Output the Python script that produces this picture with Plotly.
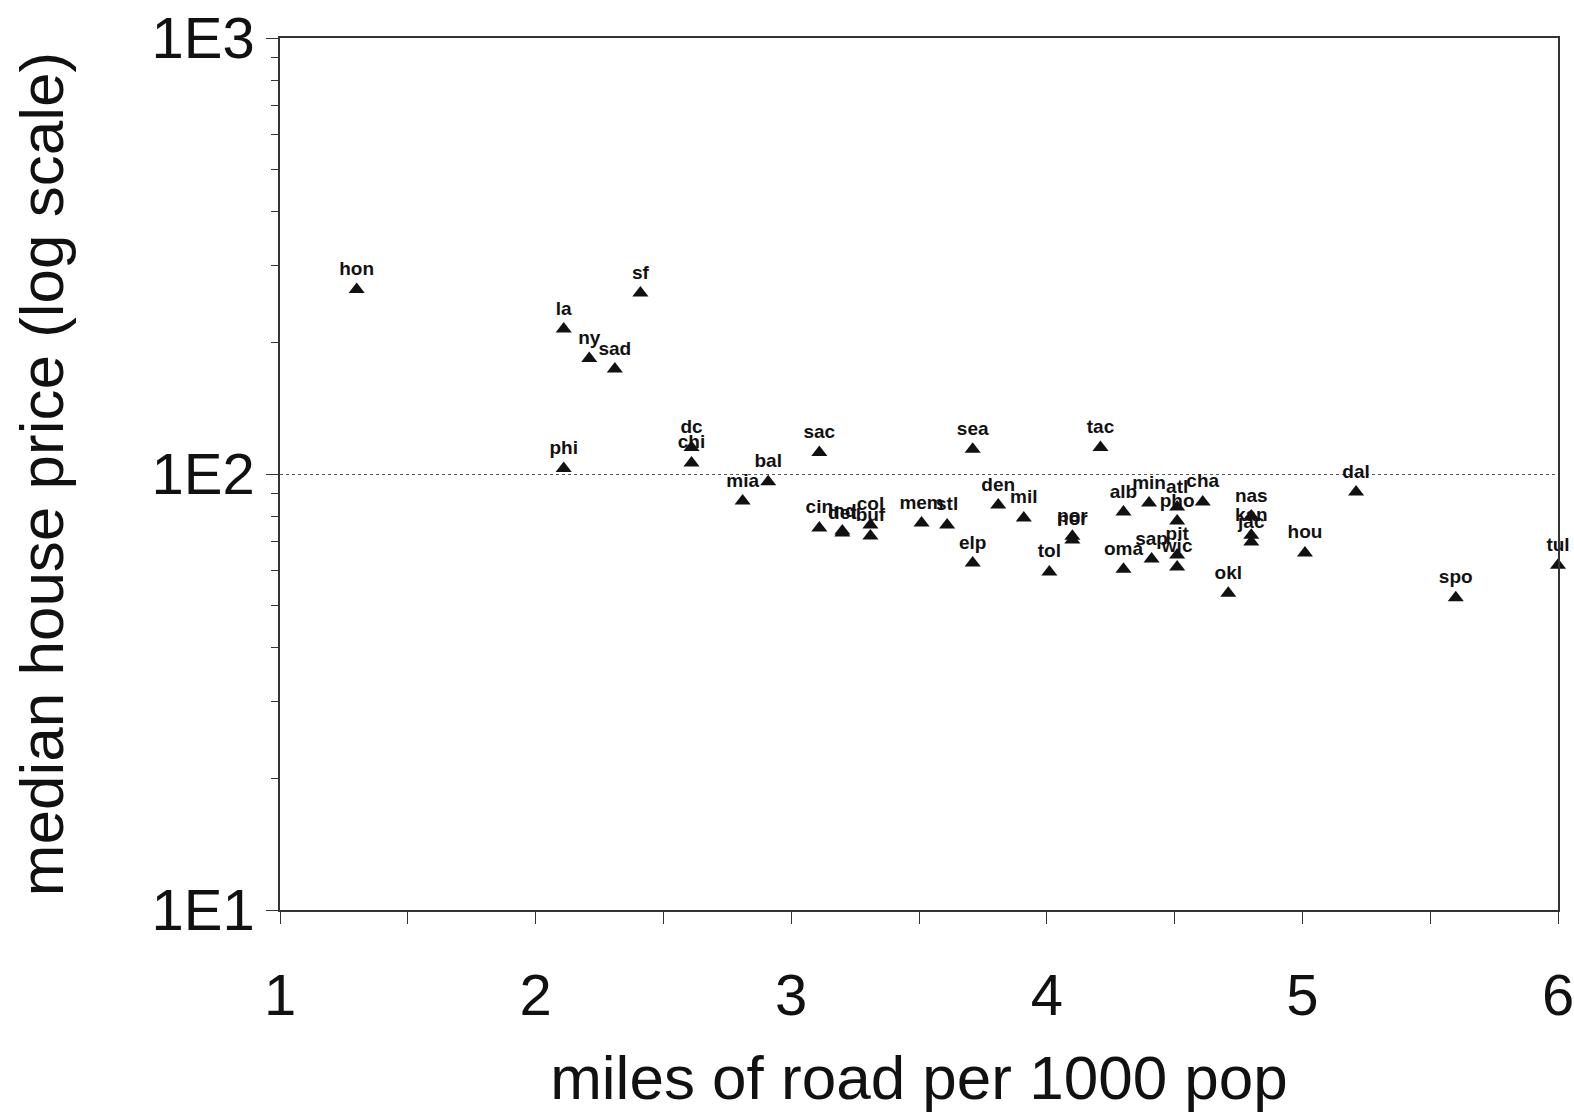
import plotly.graph_objects as go

cities = ["hon", "sf", "la", "ny", "sad", "phi", "dc", "chi", "sac", "sea", "tac",
          "bal", "mia", "den", "mil", "mem", "stl", "elp", "tol", "cin", "ind", "det",
          "col", "buf", "por", "nor", "alb", "min", "atl", "pho", "cha", "sap", "pit",
          "wic", "oma", "okl", "nas", "kan", "jac", "hou", "dal", "spo", "tul"]
road_miles = [1.30, 2.41, 2.11, 2.21, 2.31, 2.11, 2.61, 2.61, 3.11, 3.71, 4.21,
              2.91, 2.81, 3.81, 3.91, 3.51, 3.61, 3.71, 4.01, 3.11, 3.20, 3.20,
              3.31, 3.31, 4.10, 4.10, 4.30, 4.40, 4.51, 4.51, 4.61, 4.41, 4.51,
              4.51, 4.30, 4.71, 4.80, 4.80, 4.80, 5.01, 5.21, 5.60, 6.00]
house_price = [265, 260, 215, 184, 174, 103, 115, 106, 112, 114, 115,
               96, 86.7, 84.9, 79.3, 77.2, 76.4, 62.5, 59.6, 75.2, 74.0, 73.2,
               76.4, 72.1, 72.0, 70.6, 81.8, 85.8, 84.0, 78.0, 86.3, 63.8, 65.2,
               61.2, 60.5, 53.3, 80.1, 72.4, 69.8, 65.9, 90.9, 52.0, 61.8]

x_ticks = [1, 2, 3, 4, 5, 6]
y_ticks = [10, 100, 1000]
y_tick_labels = ["1E1", "1E2", "1E3"]
y_minor = [20, 30, 40, 50, 60, 70, 80, 90, 200, 300, 400, 500, 600, 700, 800, 900]

FONT = "Liberation Sans, Arial, sans-serif"
INK = "#111111"
LINE = "#333333"

fig = go.Figure()
fig.add_trace(go.Scatter(
    x=road_miles, y=house_price, text=cities,
    mode="markers+text",
    texttemplate="<b>%{text}</b>",
    textposition="top center",
    textfont=dict(family=FONT, size=19, color=INK),
    marker=dict(symbol="triangle-up", size=14, color=INK),
    cliponaxis=False,
    showlegend=False,
))

fig.update_layout(
    width=1574, height=1112,
    margin=dict(l=280, r=16, t=38, b=202),
    paper_bgcolor="white", plot_bgcolor="white",
    font=dict(family=FONT, color=INK),
    xaxis=dict(
        range=[1, 6], tickvals=x_ticks, ticktext=[str(v) for v in x_ticks],
        showline=True, linecolor=LINE, linewidth=1.5, mirror=True,
        ticks="outside", ticklen=12, tickcolor=LINE, tickwidth=1.2,
        minor=dict(dtick=0.5, ticks="outside", ticklen=12, tickcolor=LINE, showgrid=False),
        showgrid=False, zeroline=False, automargin=False,
        ticklabeloverflow="allow",
        tickfont=dict(size=58, family=FONT, color=INK),
        ticklabelstandoff=22,
        title=dict(text="miles of road per 1000 pop", font=dict(size=62, family=FONT, color=INK), standoff=30),
    ),
    yaxis=dict(
        type="log", range=[1, 3], tickvals=y_ticks, ticktext=y_tick_labels,
        showline=True, linecolor=LINE, linewidth=1.5, mirror=True,
        ticks="outside", ticklen=12, tickcolor=LINE, tickwidth=1.2,
        minor=dict(ticks="outside", ticklen=7, tickcolor=LINE, showgrid=False, tickvals=y_minor),
        showgrid=True, gridcolor="#555", griddash="dot", gridwidth=1,
        zeroline=False, automargin=False,
        ticklabeloverflow="allow",
        tickfont=dict(size=58, family=FONT, color=INK),
        ticklabelstandoff=0,
        title=dict(text="median house price (log scale)", font=dict(size=62, family=FONT, color=INK), standoff=68),
    ),
)

fig.write_html("out.html")
